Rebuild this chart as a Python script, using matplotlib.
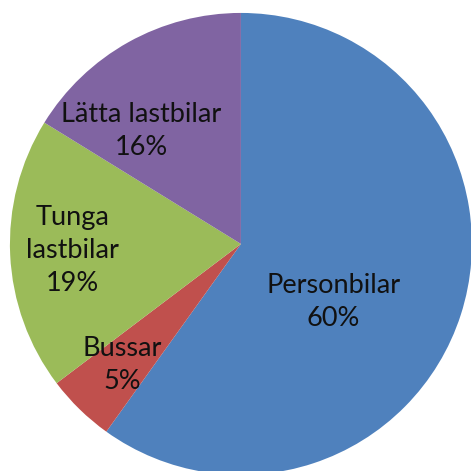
import matplotlib
matplotlib.use('Agg')
import matplotlib.pyplot as plt

# data (share of vehicles)
categories = ['Personbilar', 'Bussar', 'Tunga\nlastbilar', 'Lätta lastbilar']
values = [59.9, 4.8, 19.1, 16.2]
colors = ['#4F81BD', '#C0504D', '#9BBB59', '#8064A2']

# label block positions (pie radius = 1)
label_pos = [(0.40, -0.25), (-0.515, -0.525), (-0.73, -0.03), (-0.43, 0.49)]

plt.rcParams['font.family'] = ['Lato', 'DejaVu Sans']

fig = plt.figure(figsize=(4.71, 4.71), dpi=100)
ax = fig.add_axes([0, 0, 1, 1])

wedges, _ = ax.pie(values, colors=colors, startangle=90, counterclock=False,
                   radius=1, center=(0, 0), wedgeprops=dict(linewidth=0))

total = sum(values)
for name, v, (x, y) in zip(categories, values, label_pos):
    ax.text(x, y, '%s\n%.0f%%' % (name, v / total * 100), ha='center', va='center',
            fontsize=19.5, color='#111111', linespacing=1.4)

ax.set_xlim(-1.043, 0.996)
ax.set_ylim(-0.983, 1.056)
ax.set_aspect('equal')
ax.axis('off')

fig.savefig('out.png', dpi=100, facecolor='white')
